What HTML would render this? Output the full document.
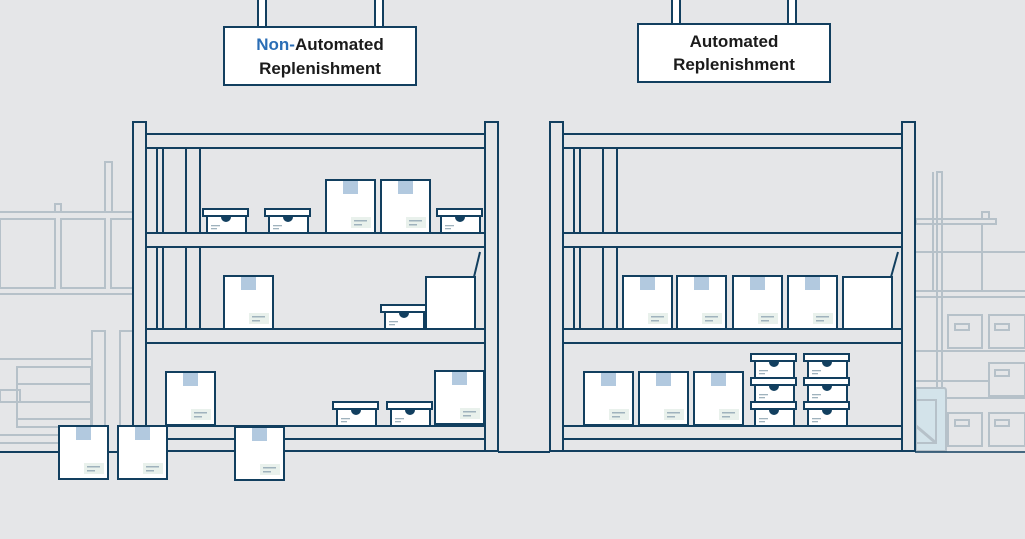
<!DOCTYPE html>
<html><head><meta charset="utf-8"><style>
html,body{margin:0;padding:0;background:#e5e6e8;}
svg{display:block}
text{font-family:"Liberation Sans",sans-serif;font-weight:bold;font-size:17px;fill:#1b1b1b}
</style></head><body>
<svg width="1025" height="539" viewBox="0 0 1025 539" xmlns="http://www.w3.org/2000/svg">
<defs>
<g id="big">
<rect x="0" y="0" width="49" height="53" fill="#fff" stroke="#123f5f" stroke-width="2"/>
<rect x="17" y="1" width="15" height="13" fill="#b2c9df"/>
<rect x="25" y="37" width="20" height="11" fill="#e9f1ec"/>
<rect x="28" y="40" width="13" height="1.5" fill="#9fb2bd"/>
<rect x="28" y="44" width="8" height="1.5" fill="#9fb2bd"/>
</g>
<g id="lid">
<rect x="4" y="7" width="39" height="17" fill="#fff" stroke="#123f5f" stroke-width="2"/>
<rect x="0" y="0" width="45" height="7" fill="#fff" stroke="#123f5f" stroke-width="2"/>
<path d="M18 8 a5 5 0 0 0 10 0 z" fill="#123f5f"/>
<rect x="8" y="16" width="9" height="1.3" fill="#9fb2bd"/>
<rect x="8" y="19" width="6" height="1.3" fill="#9fb2bd"/>
</g>
<g id="shelf" fill="none" stroke="#123f5f" stroke-width="2">
<rect x="0" y="0" width="13" height="329" fill="#e5e6e8"/>
<rect x="352" y="0" width="13" height="329" fill="#e5e6e8"/>
<rect x="13" y="12" width="339" height="14"/>
<rect x="13" y="111" width="339" height="14"/>
<rect x="13" y="207" width="339" height="14"/>
<rect x="13" y="304" width="339" height="13"/>
<rect x="13" y="317" width="339" height="12"/>
<line x1="24" y1="26" x2="24" y2="111"/><line x1="30" y1="26" x2="30" y2="111"/>
<line x1="53" y1="26" x2="53" y2="111"/><line x1="67" y1="26" x2="67" y2="111"/>
<line x1="24" y1="125" x2="24" y2="207"/><line x1="30" y1="125" x2="30" y2="207"/>
<line x1="53" y1="125" x2="53" y2="207"/><line x1="67" y1="125" x2="67" y2="207"/>
</g>
</defs>

<!-- faded background racks left -->
<g fill="none" stroke="#b6c1c9" stroke-width="2">
<line x1="0" y1="212" x2="133" y2="212"/>
<rect x="0" y="219" width="55" height="69"/>
<rect x="61" y="219" width="44" height="69"/>
<rect x="111" y="219" width="22" height="69"/>
<line x1="0" y1="294" x2="133" y2="294"/>
<path d="M55 212 V204 H61 V212"/>
<path d="M105 212 V162 H112 V212"/>
<rect x="92" y="331" width="13" height="95"/>
<rect x="120" y="331" width="13" height="95"/>
<line x1="0" y1="359" x2="92" y2="359"/>
<rect x="17" y="367" width="74" height="60"/>
<line x1="17" y1="384" x2="91" y2="384"/>
<line x1="17" y1="402" x2="91" y2="402"/>
<line x1="17" y1="419" x2="91" y2="419"/>
<rect x="0" y="390" width="20" height="12"/>
<line x1="0" y1="435" x2="58" y2="435"/>
<line x1="0" y1="443" x2="58" y2="443"/>
</g>
<!-- faded background racks right -->
<g fill="none" stroke="#b6c1c9" stroke-width="2">
<rect x="937" y="172" width="5" height="245"/>
<line x1="933" y1="172" x2="933" y2="290"/>
<rect x="916" y="219" width="80" height="5"/>
<path d="M982 219 V212 H989 V219"/>
<line x1="982" y1="224" x2="982" y2="290"/>
<line x1="916" y1="252" x2="1025" y2="252"/>
<line x1="916" y1="291" x2="1025" y2="291"/>
<line x1="916" y1="297" x2="1025" y2="297"/>
<rect x="948" y="315" width="34" height="33"/><rect x="955" y="324" width="14" height="6"/>
<rect x="989" y="315" width="36" height="33"/><rect x="995" y="324" width="14" height="6"/>
<line x1="916" y1="351" x2="1025" y2="351"/>
<rect x="989" y="363" width="36" height="33"/><rect x="995" y="370" width="14" height="6"/>
<line x1="916" y1="381" x2="989" y2="381"/>
<line x1="916" y1="398" x2="1025" y2="398"/>
<rect x="948" y="413" width="34" height="33"/><rect x="955" y="420" width="14" height="6"/>
<rect x="989" y="413" width="36" height="33"/><rect x="995" y="420" width="14" height="6"/>
</g>
<path d="M916 388 H944 Q946 388 946 391 V451 H916 Z" fill="#d3e3ea" stroke="#b6c1c9" stroke-width="2"/>
<path d="M916 400 H936 V443 H916" fill="none" stroke="#b6c1c9" stroke-width="2"/>
<path d="M916 426 L936 443" stroke="#b6c1c9" stroke-width="3"/>

<!-- floor lines -->
<line x1="0" y1="452" x2="133" y2="452" stroke="#123f5f" stroke-width="2"/>
<line x1="498" y1="452" x2="550" y2="452" stroke="#123f5f" stroke-width="2"/>
<line x1="915" y1="452" x2="1025" y2="452" stroke="#123f5f" stroke-width="1.5"/>

<!-- shelves -->
<use href="#shelf" x="133" y="122"/>
<use href="#shelf" x="550" y="122"/>

<!-- signs -->
<g fill="#fff" stroke="#123f5f" stroke-width="2">
<rect x="258" y="-2" width="8" height="29"/><rect x="375" y="-2" width="8" height="29"/>
<rect x="224" y="27" width="192" height="58"/>
<rect x="672" y="-2" width="8" height="26"/><rect x="788" y="-2" width="8" height="26"/>
<rect x="638" y="24" width="192" height="58"/>
</g>
<text x="320" y="50" text-anchor="middle"><tspan fill="#2a6db5">Non-</tspan>Automated</text>
<text x="320" y="74" text-anchor="middle">Replenishment</text>
<text x="734" y="47" text-anchor="middle">Automated</text>
<text x="734" y="70" text-anchor="middle">Replenishment</text>

<!-- left shelf boxes -->
<use href="#lid" x="203" y="209"/>
<use href="#lid" x="265" y="209"/>
<use href="#big" x="326" y="180"/>
<use href="#big" x="381" y="180"/>
<use href="#lid" x="437" y="209"/>
<use href="#big" x="224" y="276"/>
<use href="#lid" x="381" y="305"/>
<rect x="426" y="277" width="49" height="52" fill="#fff" stroke="#123f5f" stroke-width="2"/>
<line x1="474" y1="277" x2="480" y2="252" stroke="#123f5f" stroke-width="2"/>
<use href="#big" x="166" y="372"/>
<use href="#lid" x="333" y="402"/>
<use href="#lid" x="387" y="402"/>
<use href="#big" x="435" y="371"/>
<use href="#big" x="59" y="426"/>
<use href="#big" x="118" y="426"/>
<use href="#big" x="235" y="427"/>

<!-- right shelf boxes -->
<use href="#big" x="623" y="276"/>
<use href="#big" x="677" y="276"/>
<use href="#big" x="733" y="276"/>
<use href="#big" x="788" y="276"/>
<rect x="843" y="277" width="49" height="52" fill="#fff" stroke="#123f5f" stroke-width="2"/>
<line x1="891" y1="277" x2="898" y2="252" stroke="#123f5f" stroke-width="2"/>
<use href="#big" x="584" y="372"/>
<use href="#big" x="639" y="372"/>
<use href="#big" x="694" y="372"/>
<use href="#lid" x="751" y="354"/>
<use href="#lid" x="751" y="378"/>
<use href="#lid" x="751" y="402"/>
<use href="#lid" x="804" y="354"/>
<use href="#lid" x="804" y="378"/>
<use href="#lid" x="804" y="402"/>
</svg>
</body></html>
